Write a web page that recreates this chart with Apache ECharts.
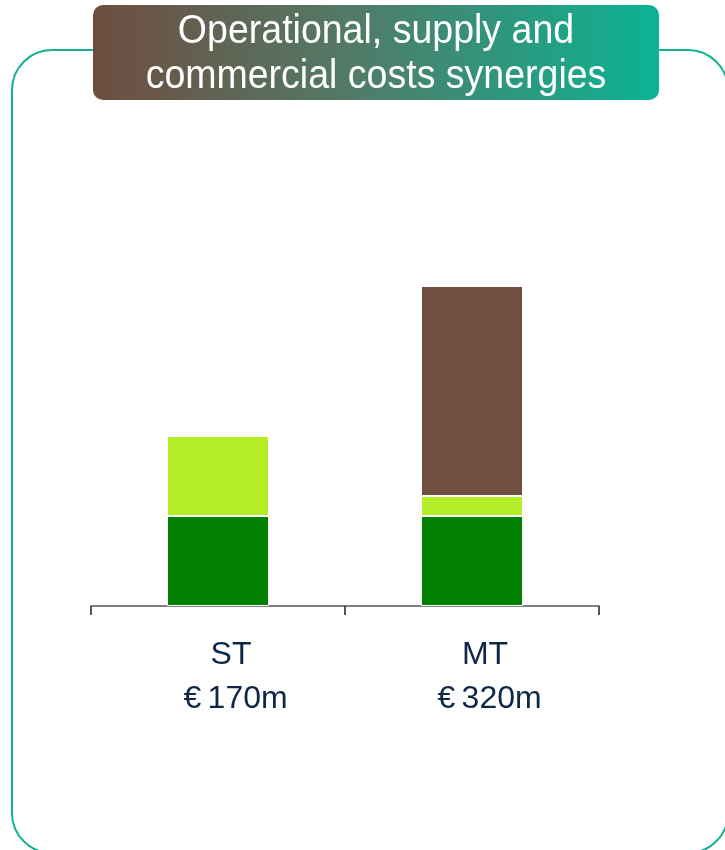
<!DOCTYPE html>
<html>
<head>
<meta charset="utf-8">
<script src="https://cdn.jsdelivr.net/npm/echarts@6/dist/echarts.min.js"></script>
<style>
  html, body { margin: 0; padding: 0; background: #fff; }
  #chart { width: 725px; height: 850px; }
</style>
</head>
<body>
<div id="chart"></div>
<script>
// periods and their headline totals
var periods = ['ST', 'MT']
var totalLabels = ['€\u2009170m', '€\u2009320m']

// stacked pieces (m€), bottom to top
var greenPart = [90, 90]
var limePart = [80, 20]
var brownPart = [0, 210]

var chart = echarts.init(document.getElementById('chart'))

function piece(name, data, color) {
  return {
    name: name,
    type: 'bar',
    stack: 'total',
    data: data,
    barWidth: 102,
    itemStyle: {
      color: color,
      borderColor: '#ffffff',
      borderWidth: 1
    },
    emphasis: { disabled: true }
  }
}

var labelFont = '"Liberation Sans", Arial, sans-serif'

chart.setOption({
  animation: false,
  backgroundColor: '#ffffff',
  grid: {
    left: 91,
    right: 126,
    top: 206,
    bottom: 244
  },
  xAxis: {
    type: 'category',
    data: periods,
    axisLine: {
      lineStyle: { color: '#555555', width: 1.5 }
    },
    axisTick: {
      show: true,
      length: 9,
      lineStyle: { color: '#222222', width: 1.5 }
    },
    axisLabel: {
      margin: 27,
      color: '#0f2747',
      fontFamily: labelFont,
      fontSize: 32,
      lineHeight: 44,
      formatter: function (value, idx) {
        return '{a|' + value + '}\n{b|' + totalLabels[idx] + '}'
      },
      rich: {
        a: {
          color: '#0f2747', fontFamily: labelFont, fontSize: 32, lineHeight: 44,
          padding: [0, 0, 0, 26]
        },
        b: {
          color: '#0f2747', fontFamily: labelFont, fontSize: 32, lineHeight: 44,
          padding: [0, 0, 0, 35]
        }
      }
    }
  },
  yAxis: {
    type: 'value',
    min: 0,
    max: 400,
    show: false
  },
  series: [
    piece('Operational', greenPart, '#028001'),
    piece('Supply', limePart, '#b5ed27'),
    piece('Commercial', brownPart, '#714f42')
  ],
  graphic: [
    {
      type: 'rect',
      z: 1,
      shape: { x: 12, y: 50, width: 716, height: 803, r: 40 },
      style: { fill: 'none', stroke: '#12b193', lineWidth: 2 }
    },
    {
      type: 'rect',
      z: 5,
      shape: { x: 93, y: 5, width: 566, height: 95, r: 10 },
      style: {
        fill: new echarts.graphic.LinearGradient(0, 0, 1, 0, [
          { offset: 0, color: '#6f4d40' },
          { offset: 0.45, color: '#527a67' },
          { offset: 1, color: '#0bb394' }
        ])
      }
    },
    {
      type: 'text',
      z: 6,
      x: 376,
      y: 54,
      scaleX: 0.915,
      style: {
        text: 'Operational, supply and\ncommercial costs synergies',
        fill: '#ffffff',
        font: '41px "Liberation Sans", Arial, sans-serif',
        lineHeight: 45,
        align: 'center',
        verticalAlign: 'middle'
      }
    }
  ]
})
</script>
</body>
</html>
